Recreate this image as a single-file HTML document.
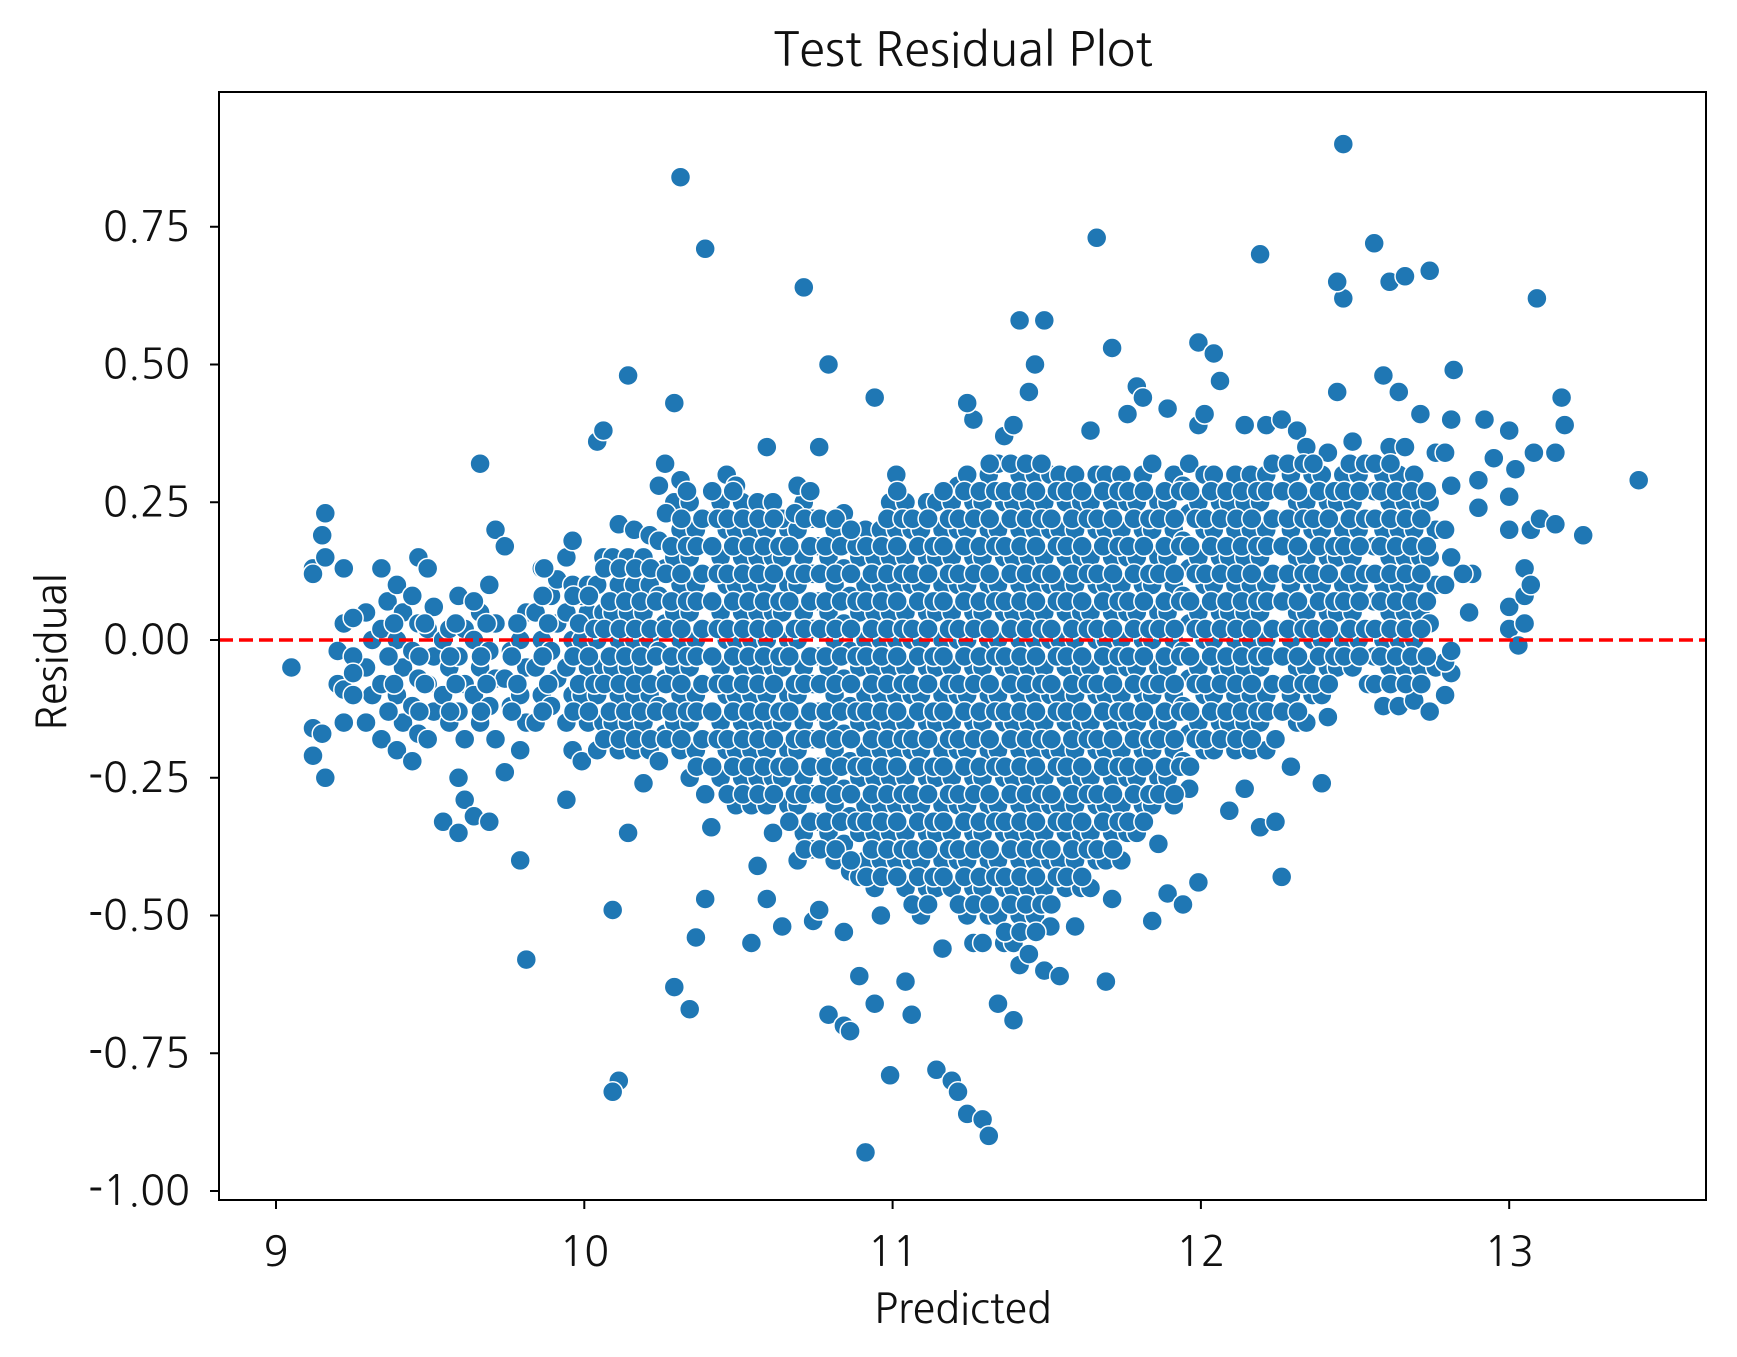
<!DOCTYPE html>
<html><head><meta charset="utf-8"><style>
html,body{margin:0;padding:0;background:#fff;}
svg{display:block;font-family:"NanumGothic","Liberation Sans",sans-serif;}
</style></head><body>
<svg id="chart" width="1737" height="1357" viewBox="0 0 1737 1357">
<rect x="0" y="0" width="1737" height="1357" fill="#fff"/>
<text x="963" y="66" text-anchor="middle" font-size="47" fill="#111">Test Residual Plot</text>
<g id="points"></g>
<g id="axes"></g>
<text x="963" y="1323" text-anchor="middle" font-size="41" fill="#111">Predicted</text>
<text x="0" y="0" transform="translate(66,652) rotate(-90)" text-anchor="middle" font-size="41" fill="#111">Residual</text>
</svg>
<script>
const xTicks = [9, 10, 11, 12, 13];
const yTicks = [-1.0, -0.75, -0.5, -0.25, 0, 0.25, 0.5, 0.75];
const yTickLabels = ["-1.00","-0.75","-0.50","-0.25","0.00","0.25","0.50","0.75"];
const columnX = [9.30,9.35,9.40,9.45,9.50,9.55,9.60,9.65,9.70,9.75,9.80,9.85,9.90,9.95,10.00,10.05,10.10,10.15,10.20,10.25,10.30,10.35,10.40,10.45,10.50,10.55,10.60,10.65,10.70,10.75,10.80,10.85,10.90,10.95,11.00,11.05,11.10,11.15,11.20,11.25,11.30,11.35,11.40,11.45,11.50,11.55,11.60,11.65,11.70,11.75,11.80,11.85,11.90,11.95,12.00,12.05,12.10,12.15,12.20,12.25,12.30,12.35,12.40,12.45,12.50,12.55,12.60,12.65,12.70,12.75,12.80];
const columnResiduals = [
[-15,-10,-5,0,5],
[-18,-13,-8,-3,2,7,13],
[-20,-15,-10,-5,0,5,10],
[-22,-17,-12,-7,-2,3,8,15],
[-18,-13,-8,-3,2,6,13],
[-33,-15,-10,-5,0,2],
[-35,-29,-25,-18,-13,-8,-3,2,8],
[-32,-15,-10,-5,0,5,7,32],
[-33,-18,-12,-7,-2,3,10,20],
[-24,-12,-7,-2,17],
[-40,-58,-20,-15,-10,-5,0,5],
[-15,-10,-5,0,5,13],
[-12,-7,-2,3,8,11],
[-29,-20,-15,-10,-5,0,5,10,15,18],
[-22,-15,-10,-5,0,5,8,10],
[-20,-15,-10,-5,0,5,10,15,36,38],
[-49,-80,-82,-20,-15,-10,-5,0,5,10,15,21],
[-35,-20,-15,-10,-5,0,5,10,15,20,48],
[-26,-20,-15,-10,-5,0,5,10,15,19],
[-22,-17,-12,-7,-2,3,8,13,18,23,28,32],
[-63,-20,-15,-10,-5,0,5,10,15,20,25,29,43,84],
[-67,-54,-25,-20,-15,-10,-5,0,5,10,15,20,25],
[-47,-34,-28,-23,-18,-13,-8,-3,2,7,12,17,22,27,71],
[-25,-20,-15,-10,-5,0,5,10,15,20,25,30],
[-30,-25,-20,-15,-10,-5,0,5,10,15,20,25,28],
[-55,-41,-30,-25,-20,-15,-10,-5,0,5,10,15,20,25],
[-47,-35,-30,-25,-20,-15,-10,-5,0,5,10,15,20,25,35],
[-52,-30,-25,-20,-15,-10,-5,0,5,10,15,20,22],
[-40,-35,-30,-25,-20,-15,-10,-5,0,5,10,15,20,25,28,64],
[-51,-49,-38,-33,-28,-23,-18,-13,-8,-3,2,7,12,17,22,35],
[-68,-40,-35,-30,-25,-20,-15,-10,-5,0,5,10,15,20,50],
[-70,-71,-53,-42,-37,-32,-27,-22,-17,-12,-7,-2,3,8,13,18,23],
[-61,-93,-43,-40,-35,-30,-25,-20,-15,-10,-5,0,5,10,15,20],
[-66,-50,-45,-40,-35,-30,-25,-20,-15,-10,-5,0,5,10,15,20,44],
[-79,-40,-35,-30,-25,-20,-15,-10,-5,0,5,10,15,20,25,30],
[-62,-68,-45,-40,-35,-30,-25,-20,-15,-10,-5,0,5,10,15,20,25],
[-50,-45,-40,-35,-30,-25,-20,-15,-10,-5,0,5,10,15,20,25],
[-78,-56,-45,-40,-35,-30,-25,-20,-15,-10,-5,0,5,10,15,20,25],
[-80,-82,-45,-40,-35,-30,-25,-20,-15,-10,-5,0,5,10,15,20,25,28],
[-86,-55,-50,-45,-40,-35,-30,-25,-20,-15,-10,-5,0,5,10,15,20,25,30,40,43],
[-87,-90,-55,-50,-45,-40,-35,-30,-25,-20,-15,-10,-5,0,5,10,15,20,25,30],
[-66,-55,-50,-45,-40,-35,-30,-25,-20,-15,-10,-5,0,5,10,15,20,25,32,37],
[-69,-59,-55,-50,-45,-40,-35,-30,-25,-20,-15,-10,-5,0,5,10,15,20,25,30,39,58],
[-57,-50,-45,-40,-35,-30,-25,-20,-15,-10,-5,0,5,10,15,20,25,30,45,50],
[-60,-52,-45,-40,-35,-30,-25,-20,-15,-10,-5,0,5,10,15,20,25,30,58],
[-61,-45,-40,-35,-30,-25,-20,-15,-10,-5,0,5,10,15,20,25,30],
[-52,-45,-40,-35,-30,-25,-20,-15,-10,-5,0,5,10,15,20,25,30],
[-45,-40,-35,-30,-25,-20,-15,-10,-5,0,5,10,15,20,25,30,38,73],
[-62,-47,-40,-35,-30,-25,-20,-15,-10,-5,0,5,10,15,20,25,30,53],
[-40,-35,-30,-25,-20,-15,-10,-5,0,5,10,15,20,25,30,41],
[-35,-30,-25,-20,-15,-10,-5,0,5,10,15,20,25,30,46,44],
[-51,-37,-30,-25,-20,-15,-10,-5,0,5,10,15,20,25,32],
[-46,-30,-25,-20,-15,-10,-5,0,5,10,15,20,25,30,42],
[-48,-27,-22,-17,-12,-7,-2,3,8,13,18,23,28,32],
[-44,-20,-15,-10,-5,0,5,10,15,20,25,30,39,41,54],
[-20,-15,-10,-5,0,5,10,15,20,25,30,47,52],
[-31,-20,-15,-10,-5,0,5,10,15,20,25,30],
[-27,-20,-15,-10,-5,0,5,10,15,20,25,30,39],
[-34,-20,-15,-10,-5,0,5,10,15,20,25,30,70,39],
[-33,-43,-18,-13,-8,-3,2,7,12,17,22,27,32,40],
[-23,-15,-10,-5,0,5,10,15,20,25,30,38],
[-15,-10,-5,0,5,10,15,20,25,30,35],
[-26,-14,-10,-5,0,5,10,15,20,25,30,34],
[-5,0,5,10,15,20,25,30,45,62,65,90],
[-5,0,5,10,15,20,25,30,36],
[-8,-3,2,7,12,17,22,27,32,72],
[-12,-5,0,5,10,15,20,25,30,35,48,65],
[-12,-5,0,5,10,15,20,25,30,35,45,66],
[-11,-5,0,5,10,15,20,25,30,41],
[-13,-5,3,10,15,20,25,34,67],
[-10,-6,-4,-2,10,15,20,28,34,40]
];
const fillX = [9.375,9.475,9.575,9.675,9.775,9.875,9.975,10.025,10.075,10.125,10.175,10.225,10.275,10.325,10.375,10.425,10.475,10.525,10.575,10.625,10.675,10.725,10.775,10.825,10.875,10.925,10.975,11.025,11.075,11.125,11.175,11.225,11.275,11.325,11.375,11.425,11.475,11.525,11.575,11.625,11.675,11.725,11.775,11.825,11.875,11.925,11.975,12.025,12.075,12.125,12.175,12.225,12.275,12.325,12.375,12.425,12.475,12.525,12.575,12.625,12.675,12.725];
const fillResiduals = [
[-13,-8,-3,3],
[-13,-8,-3,3],
[-13,-8,-3,3],
[-13,-8,-3,3],
[-13,-8,-3,3],
[-13,-8,-3,3,8],
[-13,-8,-3,3,8],
[-13,-8,-3,2,8],
[-18,-13,-8,-3,2,7,13],
[-18,-13,-8,-3,2,7,13],
[-18,-13,-8,-3,2,7,13],
[-18,-13,-8,-3,2,7,13],
[-18,-13,-8,-3,2,7,12,17,23],
[-18,-13,-8,-3,2,7,12,17,22,27],
[-23,-18,-13,-8,-3,2,7,12,17,22],
[-23,-18,-13,-8,-3,2,7,12,17,22,27],
[-28,-23,-18,-13,-8,-3,2,7,12,17,22,27],
[-28,-23,-18,-13,-8,-3,2,7,12,17,22],
[-28,-23,-18,-13,-8,-3,2,7,12,17,22],
[-28,-23,-18,-13,-8,-3,2,7,12,17,22],
[-33,-28,-23,-18,-13,-8,-3,2,7,12,17,23],
[-38,-33,-28,-23,-18,-13,-8,-3,2,7,12,17,22,27],
[-38,-33,-28,-23,-18,-13,-8,-3,2,7,12,17,22],
[-38,-33,-28,-23,-18,-13,-8,-3,2,7,12,17,22],
[-40,-33,-28,-23,-18,-13,-8,-3,2,7,12,17,20],
[-43,-38,-33,-28,-23,-18,-13,-8,-3,2,7,12,17],
[-43,-38,-33,-28,-23,-18,-13,-8,-3,2,7,12,17,22],
[-43,-38,-33,-28,-23,-18,-13,-8,-3,2,7,12,17,22,27],
[-48,-43,-38,-33,-28,-23,-18,-13,-8,-3,2,7,12,17,22],
[-48,-43,-38,-33,-28,-23,-18,-13,-8,-3,2,7,12,17,22],
[-43,-38,-33,-28,-23,-18,-13,-8,-3,2,7,12,17,22,27],
[-48,-43,-38,-33,-28,-23,-18,-13,-8,-3,2,7,12,17,22,27],
[-48,-43,-38,-33,-28,-23,-18,-13,-8,-3,2,7,12,17,22,27],
[-48,-43,-38,-33,-28,-23,-18,-13,-8,-3,2,7,12,17,22,27,32],
[-53,-48,-43,-38,-33,-28,-23,-18,-13,-8,-3,2,7,12,17,22,27,32],
[-53,-48,-43,-38,-33,-28,-23,-18,-13,-8,-3,2,7,12,17,22,27,32],
[-53,-48,-43,-38,-33,-28,-23,-18,-13,-8,-3,2,7,12,17,22,27,32],
[-48,-43,-38,-33,-28,-23,-18,-13,-8,-3,2,7,12,17,22,27],
[-43,-38,-33,-28,-23,-18,-13,-8,-3,2,7,12,17,22,27],
[-43,-38,-33,-28,-23,-18,-13,-8,-3,2,7,12,17,22,27],
[-38,-33,-28,-23,-18,-13,-8,-3,2,7,12,17,22,27],
[-38,-33,-28,-23,-18,-13,-8,-3,2,7,12,17,22,27],
[-33,-28,-23,-18,-13,-8,-3,2,7,12,17,22,27],
[-33,-28,-23,-18,-13,-8,-3,2,7,12,17,22,27],
[-28,-23,-18,-13,-8,-3,2,7,12,17,22,27],
[-28,-23,-18,-13,-8,-3,2,7,12,17,22,27],
[-23,-18,-13,-8,-3,2,7,12,17,22,27],
[-18,-13,-8,-3,2,7,12,17,22,27],
[-18,-13,-8,-3,2,7,12,17,22,27],
[-18,-13,-8,-3,2,7,12,17,22,27],
[-18,-13,-8,-3,2,7,12,17,22,27],
[-13,-8,-3,2,7,12,17,22,27,32],
[-13,-8,-3,2,7,12,17,22,27,32],
[-13,-8,-3,2,7,12,17,22,27,32],
[-8,-3,2,7,12,17,22,27,32],
[-8,-3,2,7,12,17,22,27],
[-3,2,7,12,17,22,27,32],
[-3,2,7,12,17,22,27,32],
[-8,-3,2,7,12,17,22,27,32],
[-8,-3,2,7,12,17,22,27,32],
[-8,-3,2,7,12,17,22,27],
[-8,-3,2,7,12,17,22,27]
];
const extraX = [9.05,9.12,9.12,9.12,9.12,9.15,9.15,9.16,9.16,9.16,9.20,9.20,9.22,9.22,9.22,9.22,9.25,9.25,9.25,9.25,9.87,12.88,12.87,12.90,12.90,12.92,12.95,13.00,13.00,13.00,13.00,13.00,13.02,13.03,13.05,13.05,13.05,13.07,13.07,13.08,13.09,13.10,13.15,13.15,13.17,13.18,13.24,13.42,12.85,12.82];
const extraY = [-0.05,0.13,0.12,-0.16,-0.21,0.19,-0.17,0.23,0.15,-0.25,-0.02,-0.08,0.13,0.03,-0.15,-0.09,0.04,-0.03,-0.10,-0.06,0.13,0.12,0.05,0.29,0.24,0.40,0.33,0.38,0.20,0.26,0.02,0.06,0.31,-0.01,0.03,0.08,0.13,0.20,0.10,0.34,0.62,0.22,0.21,0.34,0.44,0.39,0.19,0.29,0.12,0.49];

const NS = "http://www.w3.org/2000/svg";
const L = 219, R = 1706, T = 92, B = 1200;
function xScale(v){ return 276 + (v - 9) * 308.3; }
function yScale(v){ return 640 - v * 551; }

const pg = document.getElementById('points');
function dot(x, y){
  const c = document.createElementNS(NS, 'circle');
  c.setAttribute('cx', xScale(x).toFixed(1));
  c.setAttribute('cy', yScale(y).toFixed(1));
  c.setAttribute('r', 10);
  c.setAttribute('fill', '#1f77b4');
  c.setAttribute('stroke', '#fff');
  c.setAttribute('stroke-width', 1.5);
  
  
  pg.appendChild(c);
}
columnX.forEach((cx, i) => {
  columnResiduals[i].forEach((r, j) => dot(cx + (j % 2 ? 0.012 : -0.008), r / 100));
});
fillX.forEach((cx, i) => {
  fillResiduals[i].forEach((r, j) => dot(cx + (j % 2 ? 0.008 : -0.01), r / 100));
});
extraX.forEach((x, i) => dot(x, extraY[i]));

const ag = document.getElementById('axes');
const zl = document.createElementNS(NS, 'line');
zl.setAttribute('x1', L); zl.setAttribute('x2', R);
zl.setAttribute('y1', yScale(0)); zl.setAttribute('y2', yScale(0));
zl.setAttribute('stroke', '#ff0000'); zl.setAttribute('stroke-width', 3.6);
zl.setAttribute('stroke-dasharray', '14,6');


ag.appendChild(zl);

const frame = document.createElementNS(NS, 'rect');
frame.setAttribute('x', L); frame.setAttribute('y', T);
frame.setAttribute('width', R - L); frame.setAttribute('height', B - T);
frame.setAttribute('fill', 'none'); frame.setAttribute('stroke', '#000'); frame.setAttribute('stroke-width', 2);


ag.appendChild(frame);

xTicks.forEach(v => {
  const x = xScale(v);
  const t = document.createElementNS(NS, 'line');
  t.setAttribute('x1', x); t.setAttribute('x2', x); t.setAttribute('y1', B); t.setAttribute('y2', B + 9);
  t.setAttribute('stroke', '#000'); t.setAttribute('stroke-width', 2);
  
  
  ag.appendChild(t);
  const tx = document.createElementNS(NS, 'text');
  tx.setAttribute('x', x); tx.setAttribute('y', 1266);
  tx.setAttribute('text-anchor', 'middle'); tx.setAttribute('font-size', 41); tx.setAttribute('fill', '#111');
  tx.textContent = String(v);
  
  
  ag.appendChild(tx);
});
yTicks.forEach((v, i) => {
  const y = yScale(v);
  const t = document.createElementNS(NS, 'line');
  t.setAttribute('x1', L - 9); t.setAttribute('x2', L); t.setAttribute('y1', y); t.setAttribute('y2', y);
  t.setAttribute('stroke', '#000'); t.setAttribute('stroke-width', 2);
  
  
  ag.appendChild(t);
  const tx = document.createElementNS(NS, 'text');
  tx.setAttribute('x', 190); tx.setAttribute('y', y + 14);
  tx.setAttribute('text-anchor', 'end'); tx.setAttribute('font-size', 41); tx.setAttribute('fill', '#111');
  tx.textContent = yTickLabels[i];
  
  
  ag.appendChild(tx);
});
</script>
</body></html>
